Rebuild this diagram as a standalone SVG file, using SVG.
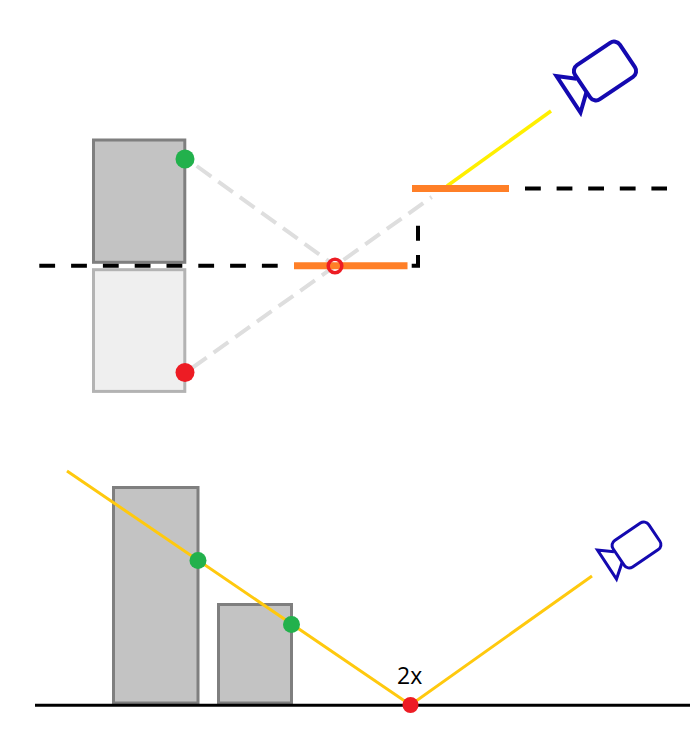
<svg xmlns="http://www.w3.org/2000/svg" width="700" height="740" viewBox="0 0 700 740">
<style>
.box{fill:#c3c3c3;stroke:#7f7f7f;stroke-width:3}
.ghost{fill:#efefef;stroke:#b3b3b3;stroke-width:3}
.dash{fill:none;stroke:#000;stroke-width:4}
.ray{fill:none;stroke:#dedede;stroke-width:4;stroke-dasharray:18 8.6}
.mirror{fill:none;stroke:#ff7f27;stroke-width:7}
.beam{fill:none;stroke:#ffc90e;stroke-width:3}
.cam{fill:none;stroke:#1409b0;stroke-linejoin:miter}
.green{fill:#22b14c}
.red{fill:#ed1c24}
</style>
<rect width="700" height="740" fill="#fff"/>
<g id="ghost-box"><rect class="ghost" x="93.5" y="269.7" width="91.3" height="121.7"/></g>
<g id="top-box"><rect class="box" x="93.5" y="140" width="91.3" height="122.3"/></g>
<g id="bottom-tall"><rect class="box" x="113.5" y="487.5" width="84.5" height="215.5"/></g>
<g id="bottom-short"><rect class="box" x="218.5" y="604.5" width="73" height="98.5"/></g>
<g id="connectors">
<path class="dash" d="M39.3 265.7H278" stroke-dasharray="15.8 16"/>
<path class="dash" d="M411.7 265.7H418V255M418 240.7V225.7"/>
<path class="dash" d="M525 188.5H667" stroke-dasharray="15.8 15.8"/>
<path class="ray" d="M196.7 166L335 265.7"/>
<path class="ray" d="M192 368L431.7 197"/>
<path d="M447 186L551 111" fill="none" stroke="#ffef00" stroke-width="3.5"/>
<path class="mirror" d="M294 265.7H407.5"/>
<path class="mirror" d="M412 188.5H509"/>
<path class="beam" d="M67 471L410.5 705L592 576"/>
<path d="M35 705.2H690" fill="none" stroke="#000" stroke-width="3"/>
</g>
<g id="top-green"><circle class="green" cx="185" cy="159" r="9.5"/></g>
<g id="top-red"><circle class="red" cx="185" cy="372.5" r="9.5"/></g>
<g id="virtual-point"><circle cx="335" cy="266" r="6.8" fill="none" stroke="#ed1c24" stroke-width="3.5"/></g>
<g id="camera-top">
<rect class="cam" x="-27" y="-20.5" width="54" height="41" rx="7" stroke-width="4" transform="translate(605 71) rotate(-34)"/>
<path class="cam" stroke-width="4" d="M576.5 78.7L556.5 76L580.5 112.5L586.5 92"/>
</g>
<g id="bottom-green-1"><circle class="green" cx="198" cy="560.5" r="8.5"/></g>
<g id="bottom-green-2"><circle class="green" cx="291.5" cy="624.5" r="8.5"/></g>
<g id="bottom-red"><circle class="red" cx="410.5" cy="705" r="8"/></g>
<g id="camera-bottom">
<rect class="cam" x="-21.5" y="-16" width="43" height="32" rx="6" stroke-width="3" transform="translate(636.5 545) rotate(-34)"/>
<path class="cam" stroke-width="3" d="M614 551.7L597.5 550L616.5 579L622 562.7"/>
</g>
<text x="397" y="684" font-family="'Open Sans',sans-serif" font-size="23" fill="#000">2x</text>
</svg>
